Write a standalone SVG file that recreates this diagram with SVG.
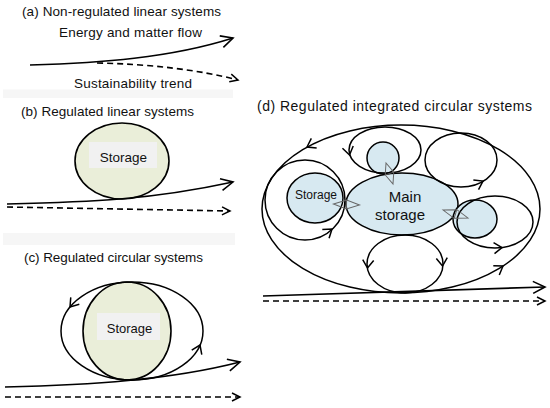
<svg xmlns="http://www.w3.org/2000/svg" xmlns:xlink="http://www.w3.org/1999/xlink" width="550" height="408" viewBox="0 0 550 408">
<style>
text{font-family:"Liberation Sans",Arial,sans-serif;fill:#111}
.t{font-size:13.5px}
.ln{fill:none;stroke:#000;stroke-width:1.7}
.ds{fill:none;stroke:#000;stroke-width:1.6;stroke-dasharray:6 4}
.lp{fill:none;stroke:#000;stroke-width:1.5}
.gr{fill:#eaeed9;stroke:#000;stroke-width:1.6}
.bl{fill:#d7e9f1;stroke:#000;stroke-width:1.5}
.lab{fill:#f1f1f1}
.band{fill:#f6f6f6}
.dbl{fill:none;stroke:#666;stroke-width:1}
</style>
<defs>
<marker id="ah" markerUnits="userSpaceOnUse" markerWidth="16" markerHeight="16" viewBox="0 0 16 16" refX="14" refY="8" orient="auto">
<path d="M2,2 L14,8 L2,14" fill="none" stroke="#000" stroke-width="1.6"/>
</marker>
<marker id="ahs" markerUnits="userSpaceOnUse" markerWidth="12" markerHeight="12" viewBox="0 0 12 12" refX="10" refY="6" orient="auto">
<path d="M2,2 L10,6 L2,10" fill="none" stroke="#000" stroke-width="1.5"/>
</marker>
<path id="ch" d="M-8,-5.5 L0,0 L-8,5.5" fill="none" stroke="#000" stroke-width="1.5"/>
<path id="dba" d="M-13,0 L0,-4.5 L13,0 L0,4.5 Z M0,-4.5 L0,4.5"/>
</defs>
<rect width="550" height="408" fill="#fff"/>

<g id="panel-a">
<text class="t" x="22" y="16" textLength="199">(a) Non-regulated linear systems</text>
<text class="t" x="59" y="37" textLength="143">Energy and matter flow</text>
<text class="t" x="74" y="88" textLength="118">Sustainability trend</text>
<rect class="band" x="3" y="89.5" width="230" height="8.5"/>
</g>

<g id="panel-b">
<text class="t" x="21" y="116" textLength="173">(b) Regulated linear systems</text>
<g id="storage-b">
<ellipse class="gr" cx="122" cy="161" rx="47" ry="38"/>
<rect class="lab" x="89" y="142" width="68" height="26"/>
<text x="123.5" y="162" font-size="13.5" text-anchor="middle">Storage</text>
</g>
</g>

<g id="panel-c">
<rect class="band" x="3" y="233" width="232" height="12"/>
<text class="t" x="24" y="262" textLength="179">(c) Regulated circular systems</text>
<g id="storage-c">
<ellipse class="gr" cx="127" cy="331" rx="44" ry="49"/>
<rect class="lab" x="97" y="313" width="63" height="27"/>
<text x="129.5" y="333" font-size="13" text-anchor="middle">Storage</text>
</g>
</g>

<g id="panel-d">
<text x="257" y="111" font-size="14" textLength="275">(d) Regulated integrated circular systems</text>
<g id="main-storage">
<ellipse class="bl" cx="402" cy="204" rx="56" ry="31"/>
<text x="405" y="202" font-size="15" text-anchor="middle">Main</text>
<text x="400" y="220" font-size="15" text-anchor="middle">storage</text>
</g>
<g id="storage-d">
<ellipse class="bl" cx="315" cy="198" rx="28" ry="25"/>
<text x="316" y="199" font-size="12" text-anchor="middle">Storage</text>
</g>
<g id="storage-top">
<circle class="bl" cx="383" cy="158" r="16"/>
</g>
<g id="storage-right">
<ellipse class="bl" cx="475" cy="219" rx="22" ry="19"/>
</g>
</g>

<g id="connectors">
<!-- panel a -->
<path class="ln" d="M30,65 C100,63 170,58 233,38" marker-end="url(#ah)"/>
<path class="ds" d="M97,63 C150,64 200,70 238,80" marker-end="url(#ahs)"/>
<!-- panel b -->
<path class="ln" d="M7,204 C90,202 150,200 233,182" marker-end="url(#ah)"/>
<path class="ds" d="M7,207 L230,211" marker-end="url(#ahs)"/>
<!-- panel c -->
<ellipse class="lp" cx="132" cy="331" rx="71" ry="49"/>
<use xlink:href="#ch" transform="translate(70,307) rotate(129)"/>
<use xlink:href="#ch" transform="translate(200,345) rotate(-66)"/>
<path class="ln" d="M5,387 C90,385 170,380 240,362" marker-end="url(#ah)"/>
<path class="ds" d="M5,397 L240,397" marker-end="url(#ahs)"/>
<!-- panel d loops -->
<ellipse class="lp" cx="401" cy="209" rx="139" ry="84"/>
<use xlink:href="#ch" transform="translate(307,147) rotate(151)"/>
<use xlink:href="#ch" transform="translate(503,266) rotate(-33)"/>
<ellipse class="lp" cx="385" cy="150" rx="36" ry="23"/>
<use xlink:href="#ch" transform="translate(349.5,155) rotate(78)"/>
<ellipse class="lp" cx="461" cy="160" rx="36" ry="27"/>
<use xlink:href="#ch" transform="translate(483,181) rotate(-28)"/>
<ellipse class="lp" cx="495" cy="222" rx="38" ry="26"/>
<use xlink:href="#ch" transform="translate(502,247.5) rotate(-5)"/>
<ellipse class="lp" cx="305" cy="200" rx="40" ry="40"/>
<use xlink:href="#ch" transform="translate(332,229) rotate(-38)"/>
<ellipse class="lp" cx="405" cy="264" rx="38" ry="29"/>
<use xlink:href="#ch" transform="translate(367.5,268) rotate(95)"/>
<use xlink:href="#ch" transform="translate(442.5,266) rotate(85)"/>
<!-- exchange arrows -->
<use class="dbl" xlink:href="#dba" transform="translate(346.5,204.5) rotate(2)"/>
<use class="dbl" xlink:href="#dba" transform="translate(389.5,173.5) rotate(71.6) scale(0.85,1)"/>
<use class="dbl" xlink:href="#dba" transform="translate(455.5,214) rotate(17.7)"/>
<!-- panel d flows -->
<path class="ln" d="M263,296 L545,287" marker-end="url(#ah)"/>
<path class="ds" d="M263,301 L545,301" marker-end="url(#ahs)"/>
</g>
</svg>
